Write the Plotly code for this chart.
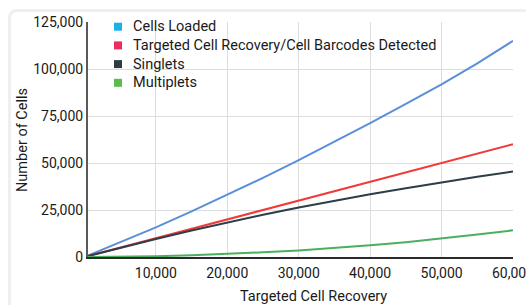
import plotly.graph_objects as go

# ---- data ----
recovery = [500, 5000, 10000, 15000, 20000, 25000, 30000, 35000, 40000, 45000, 50000, 55000, 60000]
cells_loaded = [800, 7800, 15800, 24300, 33000, 42100, 51500, 61200, 71200, 81400, 91800, 103000, 115000]
barcodes_detected = [500, 5000, 10000, 15000, 20000, 25000, 30000, 35000, 40000, 45000, 50000, 55000, 60000]
singlets = [499, 4900, 9600, 14100, 18400, 22500, 26300, 29900, 33400, 36600, 39700, 42700, 45500]
multiplets = [1, 100, 400, 900, 1600, 2500, 3500, 4800, 6200, 7900, 9800, 12000, 14200]

series_names = ["Cells Loaded", "Targeted Cell Recovery/Cell Barcodes Detected", "Singlets", "Multiplets"]
line_colors = ["#5b8fd9", "#f03a3a", "#2c3e46", "#4caf5f"]
legend_colors = ["#1eb1e6", "#ec2c5c", "#2f3c44", "#5cbb4c"]
y_ticks = [0, 25000, 50000, 75000, 100000, 125000]
x_ticks = [10000, 20000, 30000, 40000, 50000, 60000]

W, H = 526, 305
L, R, T, B = 88, 13, 22, 48
pw, ph = W - L - R, H - T - B

def px(xp):
    return (xp - L) / pw

def py(yp):
    return (H - B - yp) / ph

FONT = "Roboto, 'Noto Sans', sans-serif"

fig = go.Figure()
for ys, name, col in zip([cells_loaded, barcodes_detected, singlets, multiplets], series_names, line_colors):
    fig.add_trace(go.Scatter(x=recovery, y=ys, name=name, mode="lines",
                             line=dict(color=col, width=2), showlegend=False))

shapes = []
# card border (rounded top-left corner)
x0, y0, r = px(9.5), py(10.5), 8
rx, ry = r / pw, r / ph
shapes.append(dict(type="path", xref="paper", yref="paper", layer="below",
                   path=f"M {x0} {py(330)} L {x0} {y0 - ry} Q {x0} {y0} {x0 + rx} {y0} L {px(560)} {y0}",
                   line=dict(color="#efefef", width=3)))

annotations = []
# legend (squares + labels)
for i, (name, col) in enumerate(zip(series_names, legend_colors)):
    cy = 26.7 + i * 18.7
    shapes.append(dict(type="rect", xref="paper", yref="paper", layer="above",
                       x0=px(114), x1=px(122), y0=py(cy + 4), y1=py(cy - 4),
                       fillcolor=col, line=dict(width=0)))
    annotations.append(dict(text=name, xref="paper", yref="paper", x=px(131), y=py(cy),
                            xanchor="left", yanchor="middle", showarrow=False,
                            font=dict(family=FONT, size=14.5, color="#1a1a1a")))

annotations.append(dict(text="Targeted Cell Recovery", xref="paper", yref="paper",
                        x=px(313), y=py(296.5), xanchor="center", yanchor="middle", showarrow=False,
                        font=dict(family=FONT, size=14.5, color="#1a1a1a")))
annotations.append(dict(text="Number of Cells", xref="paper", yref="paper", textangle=-90,
                        x=px(22), y=py(140), xanchor="center", yanchor="middle", showarrow=False,
                        font=dict(family=FONT, size=14.5, color="#1a1a1a")))

fig.update_layout(
    width=W, height=H, margin=dict(l=L, r=R, t=T, b=B, pad=0, autoexpand=False),
    paper_bgcolor="white", plot_bgcolor="white",
    shapes=shapes, annotations=annotations, showlegend=False,
    font=dict(family=FONT, size=14, color="#1a1a1a"),
    xaxis=dict(range=[500, 60000], tickvals=x_ticks, tickformat=",", showgrid=True,
               gridcolor="#dddddd", gridwidth=1, showline=True, linecolor="#2a2a2a", linewidth=2,
               zeroline=False, ticks="", layer="below traces", ticklabelstandoff=2,
               ticklabeloverflow="allow", automargin=False,
               tickfont=dict(family=FONT, size=14, color="#1a1a1a")),
    yaxis=dict(range=[0, 125000], tickvals=y_ticks, tickformat=",", showgrid=True,
               gridcolor="#dddddd", gridwidth=1, showline=True, linecolor="#5a5a5a", linewidth=2,
               zeroline=False, ticks="", layer="below traces", ticklabelstandoff=0,
               automargin=False,
               tickfont=dict(family=FONT, size=14, color="#1a1a1a")),
)

fig.write_html("out.html", config={"displayModeBar": False},
               post_script="document.body.style.margin='0';document.body.style.overflow='hidden';")
